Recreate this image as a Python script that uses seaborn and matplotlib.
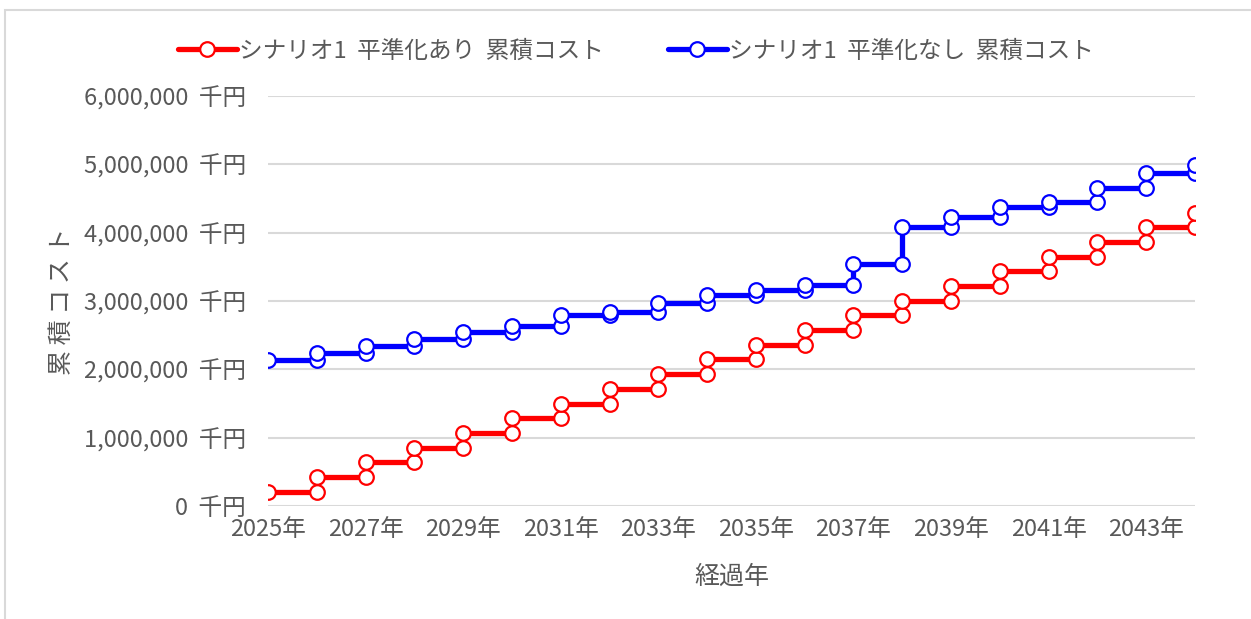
import numpy as np
import pandas as pd
import matplotlib
matplotlib.use("Agg")
import matplotlib.pyplot as plt
import matplotlib.ticker as mticker
from matplotlib.patches import Rectangle
import seaborn as sns

years = list(range(2025, 2045))

# 累積コスト (千円)
smoothed = [212000, 425000, 640000, 855000, 1070000, 1285000, 1500000, 1715000,
            1930000, 2145000, 2360000, 2575000, 2790000, 3005000, 3220000,
            3435000, 3650000, 3865000, 4080000, 4290000]
not_smoothed = [2140000, 2240000, 2340000, 2445000, 2540000, 2640000, 2800000,
                2845000, 2970000, 3085000, 3160000, 3235000, 3540000, 4080000,
                4235000, 4370000, 4450000, 4660000, 4875000, 4990000]

label_a = "シナリオ1  平準化あり  累積コスト"
label_b = "シナリオ1  平準化なし  累積コスト"
tick_years = list(range(2025, 2045, 2))


def step_frame(xs, vals):
    # Excelの階段グラフ風: 各年で縦に上がってから横に進む
    px, py = [xs[0]], [vals[0]]
    for i in range(1, len(xs)):
        px += [xs[i], xs[i]]
        py += [vals[i - 1], vals[i]]
    return pd.DataFrame({"year": px, "cost": py})


df_a = step_frame(years, smoothed)
df_b = step_frame(years, not_smoothed)

sns.set_theme(style="white")
plt.rcParams["font.family"] = ["Noto Sans CJK JP", "DejaVu Sans"]
gray = "#595959"

fig = plt.figure(figsize=(12.51, 6.19), dpi=100)
ax = fig.add_axes([268 / 1251, 1 - 506 / 619, (1195 - 268) / 1251, (506 - 96) / 619])

fig.patches.append(Rectangle((5 / 1251, -0.05), 1.1, 1 - 10 / 619 + 0.05,
                             transform=fig.transFigure, fill=False,
                             edgecolor="#d9d9d9", lw=1.5))

for d, col, lab in [(df_a, "#ff0000", label_a), (df_b, "#0000ff", label_b)]:
    sns.lineplot(data=d, x="year", y="cost", sort=False, estimator=None,
                 color=col, lw=3.8, marker="o", markersize=10.5,
                 markerfacecolor="white", markeredgecolor=col,
                 markeredgewidth=1.6, label=lab, ax=ax, zorder=3)

ax.set_xlim(2025, 2044)
ax.set_ylim(0, 6000000)
ax.set_xticks(tick_years)
ax.set_xticklabels([f"{y}年" for y in tick_years])
ax.yaxis.set_major_locator(mticker.MultipleLocator(1000000))
ax.yaxis.set_major_formatter(mticker.FuncFormatter(lambda v, p: f"{int(v):,}  千円"))
ax.grid(axis="y", color="#d9d9d9", lw=1.5)
ax.set_axisbelow(True)
for s in ax.spines.values():
    s.set_visible(False)
ax.tick_params(axis="x", length=0, pad=9, labelsize=17, labelcolor=gray)
ax.tick_params(axis="y", length=0, pad=16, labelsize=17, labelcolor=gray)

ax.set_xlabel("経過年", fontsize=18, color=gray, labelpad=16)
ax.set_ylabel("累 積 コ ス ト", fontsize=18, color=gray, labelpad=6)

ax.legend(loc="lower center", bbox_to_anchor=(0.397, 1.03), ncol=2, frameon=False,
          fontsize=17, labelcolor=gray, handlelength=2.5, columnspacing=2.7,
          handletextpad=0.1)

fig.savefig("out.png", dpi=100, facecolor="white")
